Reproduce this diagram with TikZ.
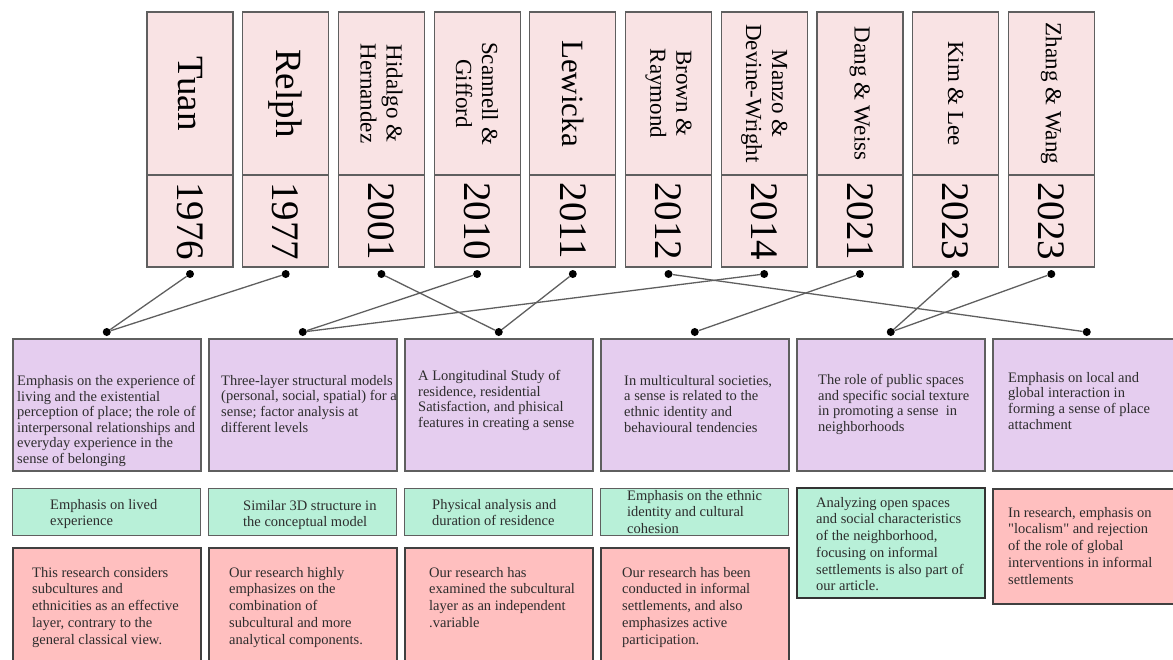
\documentclass[tikz,border=0pt]{standalone}
\usepackage{fontspec}
\setmainfont{Liberation Serif}[Ligatures=TeXOff]
\usepackage{tikz}
\usetikzlibrary{calc,positioning}
\definecolor{pinkfill}{RGB}{249,227,228}
\definecolor{lilac}{RGB}{229,205,239}
\definecolor{mint}{RGB}{184,240,216}
\definecolor{rosered}{RGB}{255,191,191}
\definecolor{edgegray}{RGB}{95,95,95}
\definecolor{txtgray}{RGB}{45,45,45}
\newcommand\boxfnt{\fontsize{14.5}{16.7}\selectfont}
\newcommand\topicfnt{\fontsize{14.5}{15.6}\selectfont}
\newcommand\namebig{\fontsize{37}{40}\selectfont}
\newcommand\namemid{\fontsize{31}{34}\selectfont}
\newcommand\namesm{\fontsize{23}{26}\selectfont}
\newcommand\yearfnt{\fontsize{39}{42}\selectfont}
\tikzset{
  namebox/.style={draw=edgegray,fill=pinkfill,line width=1.2pt,rotate=-90,minimum width=163pt,minimum height=86pt,align=center,inner sep=0pt},
  yearbox/.style={draw=edgegray,fill=pinkfill,line width=1.2pt,rotate=-90,minimum width=92pt,minimum height=86pt,inner sep=0pt,font=\yearfnt},
  topic/.style={draw=edgegray,fill=lilac,line width=1.5pt,anchor=north west,minimum width=188pt,minimum height=132pt,inner sep=0pt},
  aspect/.style={draw=edgegray,fill=mint,line width=1.3pt,anchor=north west,minimum width=188pt,minimum height=47pt,inner sep=0pt},
  ours/.style={draw=black!75,fill=rosered,line width=1.6pt,anchor=north west,minimum width=188pt,minimum height=115pt,inner sep=0pt},
  txt/.style={anchor=north west,align=left,inner sep=0pt,font=\boxfnt,text=txtgray},
  dot/.style={circle,fill=black,inner sep=0pt,minimum size=8pt},
  link/.style={line width=1.3pt,draw=edgegray}
}
\begin{document}
\begin{tikzpicture}[x=1pt,y=-1pt]
  \useasboundingbox (0,0) rectangle (1173,659);
  % authors and years
  \foreach \i/\nm/\yr/\fnt in {0/Tuan/1976/\namebig,1/Relph/1977/\namebig,
      2/{Hidalgo \&\\Hernandez}/2001/\namesm,3/{Scannell \&\\Gifford}/2010/\namesm,
      4/Lewicka/2011/\namemid,5/{Brown \&\\Raymond}/2012/\namesm,
      6/{Manzo \&\\Devine-Wright}/2014/\namesm,7/{Dang \& Weiss}/2021/\namesm,
      8/{Kim \& Lee}/2023/\namesm,9/{Zhang \& Wang}/2023/\namesm}{
    \node[namebox,font=\fnt] (n\i) at (190+95.7*\i,93.5) {\nm};
    \node[yearbox] (y\i) at (190+95.7*\i,221) {\yr};
    \node[dot] (t\i) at (190+95.7*\i,274) {};
  }
  % main findings
  \foreach \j in {1,...,6}{
    \node[topic] (p\j) at (12+196*\j-196,338) {};
    \node[dot] (b\j) at ($(p\j.north)+(0,-6)$) {};
  }
  \foreach \a/\b in {0/1,1/1,2/3,3/2,4/3,5/6,6/2,7/4,8/5,9/5}
    \draw[link] (t\a) -- (b\b);
  \foreach \j/\dx/\dy/\txt in {
      1/5/37/{Emphasis on the experience of\\living and the existential\\perception of place; the role of\\interpersonal relationships and\\everyday experience in the\\sense of belonging},
      2/13/37/{Three-layer structural models\\(personal, social, spatial) for a\\sense; factor analysis at\\different levels},
      3/14/32/{A Longitudinal Study of\\residence, residential\\Satisfaction, and phisical\\features in creating a sense},
      4/24/37/{In multicultural societies,\\a sense is related to the\\ethnic identity and\\behavioural tendencies},
      5/22/36/{The role of public spaces\\and specific social texture\\in promoting a sense~ in\\neighborhoods},
      6/16/34/{Emphasis on local and\\global interaction in\\forming a sense of place\\attachment}}
    \node[txt,font=\topicfnt] (pt\j) at ($(p\j.north west)+(\dx,\dy)$) {\txt};
  % similarities
  \node[aspect] (g1) at (12,488) {};
  \node[aspect] (g2) at (208,488) {};
  \node[aspect] (g3) at (404,488) {};
  \node[aspect] (g4) at (600,488) {};
  \node[aspect,minimum height=110pt,draw=black!80,line width=1.8pt] (g5) at (796,487) {};
  \node[ours] (g6) at (992,488) {};
  \foreach \j/\dx/\dy/\txt in {
      1/38/11/{Emphasis on lived\\experience},
      2/35/12/{Similar 3D structure in\\the conceptual model},
      3/28/11/{Physical analysis and\\duration of residence},
      4/27/2/{Emphasis on the ethnic\\identity and cultural\\cohesion},
      5/20/10/{Analyzing open spaces\\and social characteristics\\of the neighborhood,\\focusing on informal\\settlements is also part of\\our article.},
      6/16/19/{In research, emphasis on\\"localism" and rejection\\of the role of global\\interventions in informal\\settlements}}
    \node[txt] (gt\j) at ($(g\j.north west)+(\dx,\dy)$) {\txt};
  % our research
  \foreach \j/\dx/\txt in {
      1/20/{This research considers\\subcultures and\\ethnicities as an effective\\layer, contrary to the\\general classical view.},
      2/21/{Our research highly\\emphasizes on the\\combination of\\subcultural and more\\analytical components.},
      3/25/{Our research has\\examined the subcultural\\layer as an independent\\.variable},
      4/22/{Our research has been\\conducted in informal\\settlements, and also\\emphasizes active\\participation.}}{
    \node[ours] (r\j) at (12+196*\j-196,547) {};
    \node[txt] (rt\j) at ($(r\j.north west)+(\dx,20)$) {\txt};
  }
\end{tikzpicture}
\end{document}
